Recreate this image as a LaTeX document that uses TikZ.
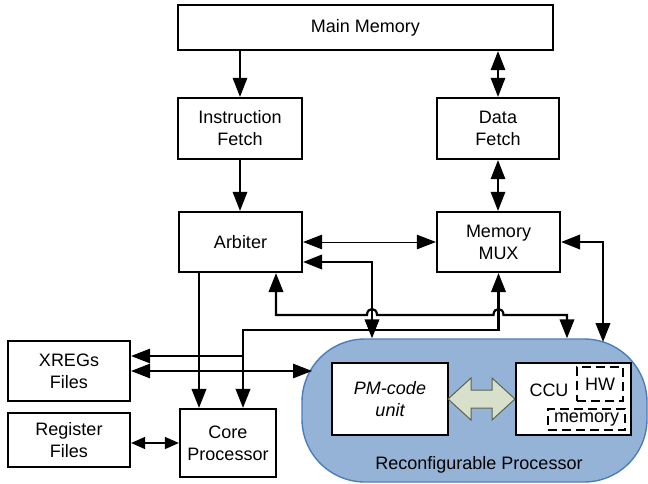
\documentclass[tikz,border=0pt]{standalone}
\usepackage{fontspec}
\setmainfont{Liberation Sans}
\usetikzlibrary{arrows.meta,calc}
\definecolor{rpfill}{HTML}{95B3D7}
\definecolor{rpline}{HTML}{4A7EBB}
\definecolor{dafill}{HTML}{D8DFCA}
\definecolor{daline}{HTML}{5A6650}
\begin{document}
\begin{tikzpicture}[x=1pt,y=-1pt,
  fnt/.style={font=\fontsize{18}{22}\selectfont},
  blk/.style={draw, line width=2.2pt, fill=white, align=center, fnt, inner sep=0pt},
  >={Triangle[length=19pt,width=14.5pt]},
  thinline/.style={line width=1.3pt},
  thickline/.style={line width=2.2pt},
  hairline/.style={line width=0.9pt},
  smalltips/.style={{Triangle[length=14pt,width=12pt]}-{Triangle[length=14pt,width=12pt]}},
  dbox/.style={draw, line width=1.4pt, dash pattern=on 9pt off 5pt, inner sep=0pt, fnt}]
\useasboundingbox (0,0) rectangle (648,483);

% reconfigurable processor blob
\node[draw=rpline, fill=rpfill, line width=1.4pt, rounded corners=63pt,
      minimum width=345pt, minimum height=143pt] (rp) at (474.5,410.5) {};
\node[fnt] (rpl) at (479,465) {Reconfigurable Processor};

% boxes
\node[blk, minimum width=375pt, minimum height=45pt] (mm) at (365.5,27.5) {Main Memory};
\node[blk, minimum width=124pt, minimum height=61pt] (if) at (240,128.5) {Instruction\\Fetch};
\node[blk, minimum width=122pt, minimum height=61pt] (df) at (498,128.5) {Data\\Fetch};
\node[blk, minimum width=123pt, minimum height=60pt] (arb) at (240.5,242) {Arbiter};
\node[blk, minimum width=123pt, minimum height=60pt] (mux) at (498.5,242) {Memory\\MUX};
\node[blk, minimum width=122pt, minimum height=60pt] (xr) at (69,371) {XREGs\\Files};
\node[blk, minimum width=122pt, minimum height=54pt] (rf) at (69,440) {Register\\Files};
\node[blk, minimum width=96pt, minimum height=68pt] (core) at (228,443) {Core\\Processor};
\node[blk, minimum width=116pt, minimum height=72pt, font=\fontsize{18}{22}\selectfont\itshape] (pm) at (390,399) {PM-code\\unit};
\node[blk, minimum width=115pt, minimum height=72pt] (ccu) at (573.5,399) {};
\node[fnt] (ccut) at (549,390) {CCU};
\node[dbox, minimum width=46pt, minimum height=34pt] (hw) at (600,384) {HW};
\node[dbox, minimum width=77pt, minimum height=21pt] (mem) at (586.5,419.5) {memory};

% double arrow between PM-code unit and CCU
\draw[fill=dafill, draw=daline, line width=1pt]
  (448,399) -- (471,378) -- (471,390) -- (492,390) -- (492,378) -- (515,399)
  -- (492,420) -- (492,408) -- (471,408) -- (471,420) -- cycle;

% coordinates
\coordinate (ja) at (276,315);
\coordinate (jb) at (567,315);
\coordinate (ka) at (243,330);
\coordinate (kb) at (mux.south |- ka);
\coordinate (kx) at (243,356);
\coordinate (ma) at (372,262);
\coordinate (mr) at (603,242);
\coordinate (mrb) at (603,342);
\coordinate (rpin) at (312,371);
\coordinate (cx) at (199,300);

% connectors
\draw[thinline,->] (if.north |- mm.south) -- (if.north);
\draw[thinline,<->] (df.north |- mm.south) -- (df.north);
\draw[thinline,->] (if.south) -- (if.south |- arb.north);
\draw[thinline,<->] (df.south) -- (df.south |- mux.north);
\draw[hairline,<->] (arb.east) -- (mux.west);
\draw[thickline,<->] (arb.east |- ma) -- (ma) -- (ma |- rp.north);
\draw[thickline,<->] (arb.south -| ja) -- (ja) -- (367,315)
  .. controls (367,307) and (377,307) .. (377,315) -- (493.5,315)
  .. controls (493.5,307) and (503.5,307) .. (503.5,315) -- (jb) -- (jb |- rp.north);
\draw[thickline,<->] (core.north -| ka) -- (ka) -- (kb) -- (mux.south -| kb);
\draw[thinline,->] (kx) -- (kx -| xr.east);
\draw[thickline,<->] (mux.east) -- (mr) -- (mrb);
\draw[thinline,<->] (xr.east) -- (rpin);
\draw[thickline,->] (arb.south -| cx) -- (core.north -| cx);
\draw[thinline,smalltips] (core.west -| rf.east) -- (core.west);
\end{tikzpicture}
\end{document}
